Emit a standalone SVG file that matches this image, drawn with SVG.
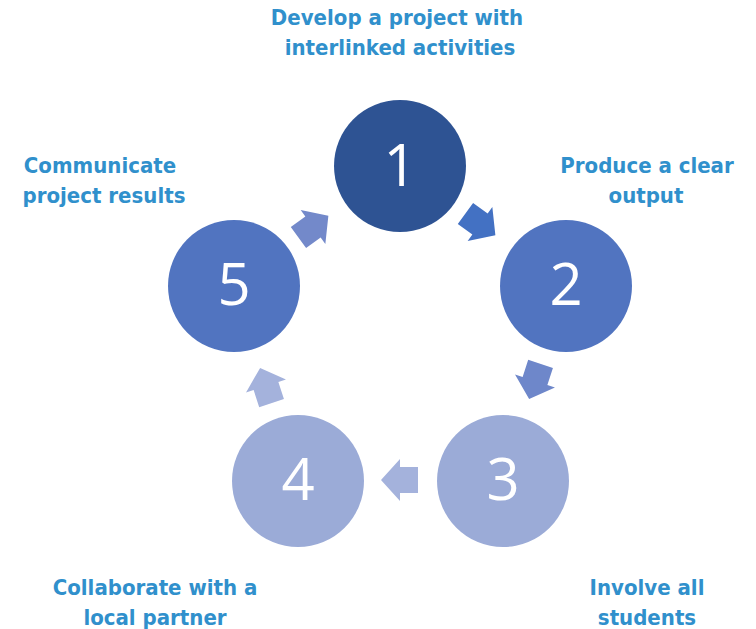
<svg xmlns="http://www.w3.org/2000/svg" width="756" height="629" viewBox="0 0 756 629">
<style>
.lbl{font-family:"DejaVu Sans Condensed","DejaVu Sans",sans-serif;font-stretch:condensed;font-weight:bold;font-size:22px;fill:#3090CC;text-anchor:middle}
.num{font-family:"Open Sans","Liberation Sans",sans-serif;font-size:58px;fill:#FFFFFF;text-anchor:middle}
</style>
<defs>
<polygon id="arr" points="-18,-13 0,-13 0,-21 19,0 0,21 0,13 -18,13"/>
</defs>
<rect width="756" height="629" fill="#FFFFFF"/>
<g id="connectors">
<use href="#arr" transform="translate(480,224) rotate(36)" fill="#4371C3"/>
<use href="#arr" transform="translate(535,381) rotate(108)" fill="#6E87CA"/>
<use href="#arr" transform="translate(400,480) rotate(180)" fill="#A4B2DC"/>
<use href="#arr" transform="translate(266,386) rotate(-108)" fill="#A4B2DC"/>
<use href="#arr" transform="translate(313,227) rotate(-36)" fill="#7389CA"/>
</g>
<g id="node1">
<circle cx="400" cy="166" r="66" fill="#2E5393"/>
<text class="num" x="400" y="186">1</text>
<text class="lbl" x="397" y="25">Develop a project with</text>
<text class="lbl" x="400" y="55">interlinked activities</text>
</g>
<g id="node2">
<circle cx="566" cy="286" r="66" fill="#5174C0"/>
<text class="num" x="566" y="305">2</text>
<text class="lbl" x="647" y="173">Produce a clear</text>
<text class="lbl" x="646" y="203">output</text>
</g>
<g id="node3">
<circle cx="503" cy="481" r="66" fill="#9BABD7"/>
<text class="num" x="503" y="500">3</text>
<text class="lbl" x="647" y="595">Involve all</text>
<text class="lbl" x="647" y="625">students</text>
</g>
<g id="node4">
<circle cx="298" cy="481" r="66" fill="#9BABD7"/>
<text class="num" x="298" y="500">4</text>
<text class="lbl" x="155" y="595">Collaborate with a</text>
<text class="lbl" x="155" y="625">local partner</text>
</g>
<g id="node5">
<circle cx="234" cy="286" r="66" fill="#5174C0"/>
<text class="num" x="234" y="305">5</text>
<text class="lbl" x="100" y="173">Communicate</text>
<text class="lbl" x="104" y="203">project results</text>
</g>
</svg>
